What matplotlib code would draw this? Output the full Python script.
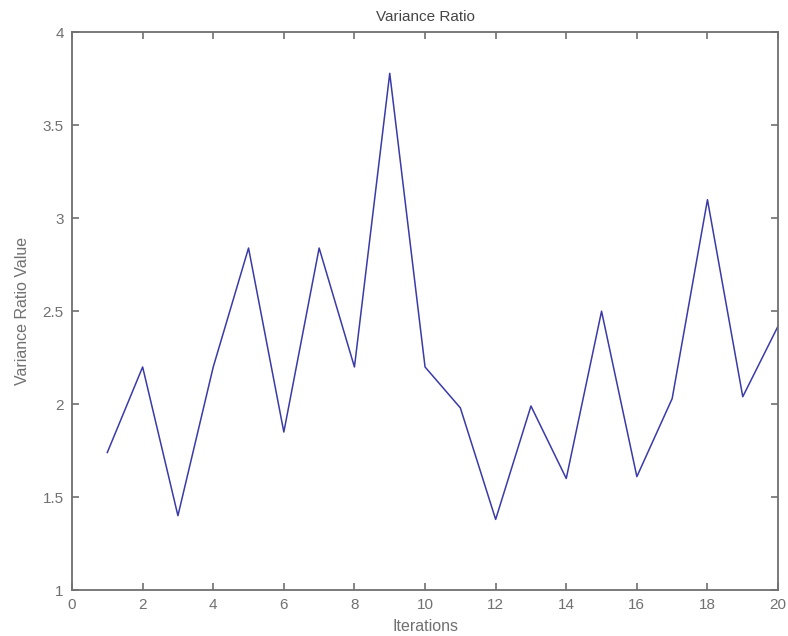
import numpy as np
import matplotlib
matplotlib.use('Agg')
import matplotlib.pyplot as plt

iterations = np.arange(1, 21)
ratio = [1.74, 2.20, 1.40, 2.20, 2.84, 1.85, 2.84, 2.20, 3.78, 2.20,
         1.98, 1.38, 1.99, 1.60, 2.50, 1.61, 2.03, 3.10, 2.04, 2.42]
xticks = [0, 2, 4, 6, 8, 10, 12, 14, 16, 18, 20]
yticks = [1, 1.5, 2, 2.5, 3, 3.5, 4]
ytick_labels = ['1', '1.5', '2', '2.5', '3', '3.5', '4']

grey = '#707070'
plt.rcParams['font.family'] = ['Liberation Sans', 'DejaVu Sans']

fig = plt.figure(figsize=(7.88, 6.36), dpi=100)
ax = fig.add_axes([0.0914, 0.0723, 0.896, 0.8767])
ax.plot(iterations, ratio, color='#3a3aa8', linewidth=1.1)

ax.set_xlim(0, 20)
ax.set_ylim(1, 4)
ax.set_xticks(xticks)
ax.set_yticks(yticks)
ax.set_yticklabels(ytick_labels)
ax.tick_params(direction='in', top=True, right=True, length=5, width=1.2,
               colors=grey, labelsize=11, pad=6)
for s in ax.spines.values():
    s.set_color(grey)
    s.set_linewidth(1.3)

ax.set_title('Variance Ratio', fontsize=11, color='#454545', pad=8)
ax.set_xlabel('Iterations', fontsize=11.5, color=grey, labelpad=5)
ax.set_ylabel('Variance Ratio Value', fontsize=11.5, color=grey, labelpad=9)

fig.savefig('out.png', dpi=100)
